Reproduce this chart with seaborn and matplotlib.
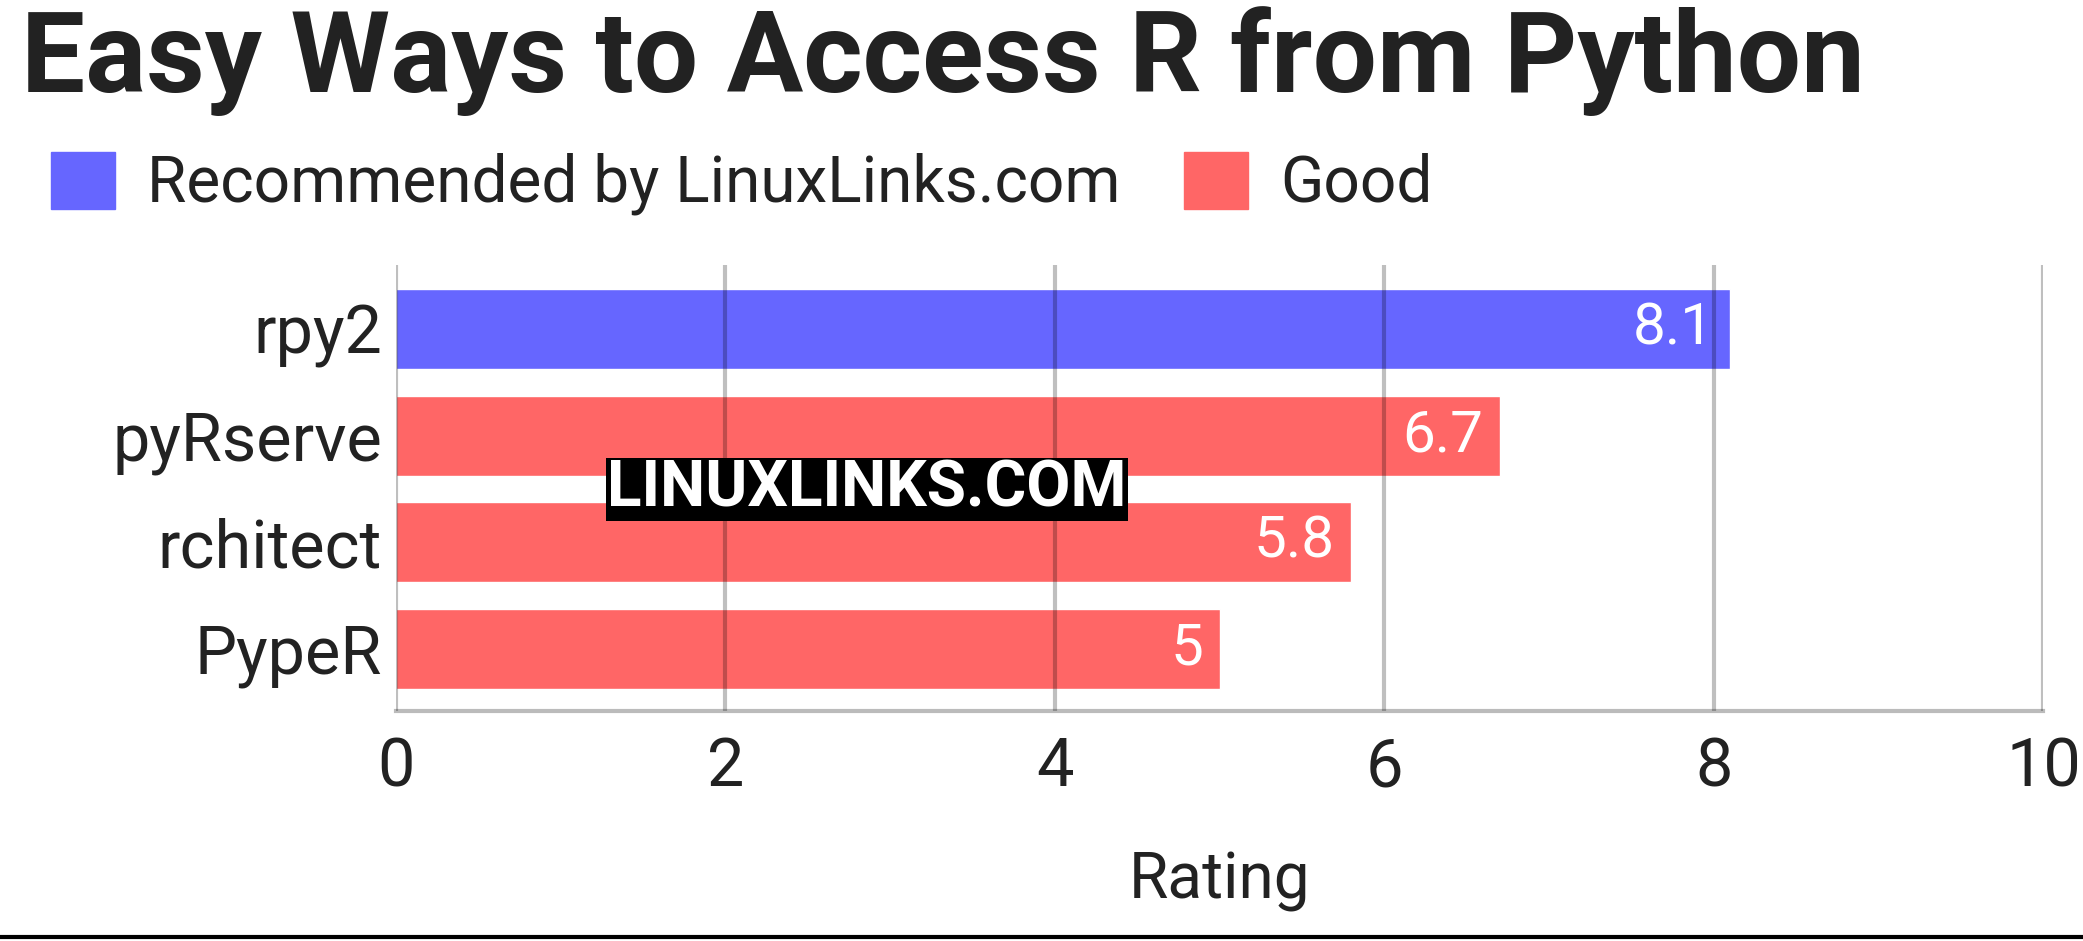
import matplotlib
matplotlib.use("Agg")
import matplotlib.pyplot as plt
import seaborn as sns
import pandas as pd
from matplotlib.patches import Patch

names = ["rpy2", "pyRserve", "rchitect", "PypeR"]
ratings = [8.1, 6.7, 5.8, 5.0]
labels = ["8.1", "6.7", "5.8", "5"]
groups = ["Recommended by LinuxLinks.com", "Good", "Good", "Good"]
palette = {"Recommended by LinuxLinks.com": "#6666ff", "Good": "#ff6666"}

df = pd.DataFrame({"name": names, "rating": ratings, "group": groups})

sns.set_style("white")
plt.rcParams['font.family'] = ['Roboto', 'DejaVu Sans']

fig = plt.figure(figsize=(20.83, 9.41), dpi=100)
ax = fig.add_axes([0.190, 0.244, 0.791, 0.474])
sns.barplot(data=df, x="rating", y="name", hue="group", palette=palette,
            dodge=False, width=0.75, saturation=1, ax=ax, legend=False, zorder=1)
ax.set_xlim(0, 10)
ax.set_ylim(3.59, -0.6)
ax.set_xticks([0, 2, 4, 6, 8, 10])
ax.grid(axis="x", color="black", alpha=0.25, linewidth=3, zorder=3)
ax.set_axisbelow(False)
for p in ax.patches:
    p.set_zorder(2)
for s in ["top", "right", "left"]:
    ax.spines[s].set_visible(False)
ax.spines["bottom"].set_color("#bbbbbb")
ax.spines["bottom"].set_linewidth(3)
ax.tick_params(axis="both", length=0, labelsize=48, colors="#222222", pad=10)
ax.tick_params(axis="x", pad=18)
ax.set_ylabel("")
ax.set_xlabel("Rating", fontsize=46, color="#222222", labelpad=36)

for i, (v, t) in enumerate(zip(ratings, labels)):
    ax.text(v - 0.1, i, t, ha="right", va="center", color="white", fontsize=42, zorder=5)

fig.text(0.010, 0.935, "Easy Ways to Access R from Python", fontsize=82,
         fontweight="bold", color="#222222", va="center", ha="left")

handles = [Patch(color=palette[g]) for g in ["Recommended by LinuxLinks.com", "Good"]]
fig.legend(handles, ["Recommended by LinuxLinks.com", "Good"], loc="center left",
           bbox_to_anchor=(-0.003, 0.805), ncol=2, frameon=False, fontsize=46,
           handlelength=1.0, handleheight=1.0, columnspacing=1.0, handletextpad=0.5,
           labelcolor="#222222")

fig.text(0.416, 0.48, "LINUXLINKS.COM", fontsize=46, fontweight="bold", color="white",
         ha="center", va="center", zorder=10,
         bbox=dict(facecolor="black", edgecolor="none", pad=1))

fig.add_artist(plt.Line2D([0, 1], [0.004, 0.004], color="black", linewidth=3))
fig.savefig("out.png", dpi=100, facecolor="white")
